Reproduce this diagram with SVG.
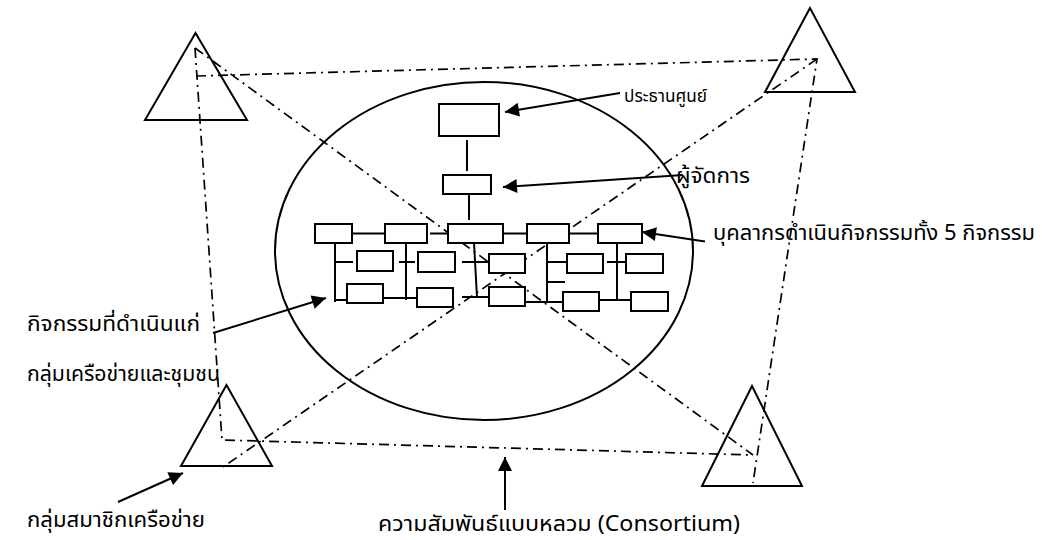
<svg xmlns="http://www.w3.org/2000/svg" width="1047" height="540" viewBox="0 0 1047 540">
<style>
.s{fill:none;stroke:#000;stroke-width:2}
.b{fill:#fff;stroke:#000;stroke-width:2}
.d{fill:none;stroke:#000;stroke-width:1.7;stroke-dasharray:10,5,2,5}
.a{fill:none;stroke:#000;stroke-width:2;marker-end:url(#ah)}
text{font-family:"Noto Sans Thai","Noto Sans","DejaVu Sans",sans-serif;fill:#000}
</style>
<defs>
<marker id="ah" viewBox="0 0 10 10" refX="10" refY="5" markerWidth="8.5" markerHeight="7" markerUnits="strokeWidth" orient="auto"><path d="M0,0L10,5L0,10z" fill="#000"/></marker>
</defs>
<rect width="1047" height="540" fill="#fff"/>
<g id="ellipse"><ellipse class="s" cx="484" cy="251" rx="209" ry="169"/></g>
<g id="tri-tl"><polygon class="s" points="195.5,33 145,120 247,120"/></g>
<g id="tri-tr"><polygon class="s" points="810,8 765,92 855,92"/></g>
<g id="tri-bl"><polygon class="s" points="226.5,385 181,466 272,466"/></g>
<g id="tri-br"><polygon class="s" points="752,386 702,486 802,486"/></g>
<g id="connectors">
<path class="d" d="M195,48L222,440L753,455"/>
<path class="d" d="M196,76L817,59L753,483"/>
<path class="d" d="M195,48L753,455"/>
<path class="d" d="M817,59L223,467"/>
</g>
<g id="org">
<rect class="b" x="439" y="104" width="60" height="32"/>
<rect class="b" x="443" y="175" width="48" height="19"/>
<path class="s" d="M467,140V171M469,194V220"/>
<rect class="b" x="315" y="224" width="37" height="19"/>
<rect class="b" x="385" y="224" width="42" height="19"/>
<rect class="b" x="448" y="224" width="55" height="19"/>
<rect class="b" x="527" y="224" width="42" height="19"/>
<rect class="b" x="598" y="224" width="44" height="19"/>
<path class="s" d="M352,233.5H385M430,233.5H448M503,233.5H527M569,233.5H598"/>
<path class="s" d="M335,243V302M406,243V300M474,243L477,297M547,243V303M617,243V300"/>
<rect class="b" x="357" y="251" width="36" height="20"/>
<rect class="b" x="418" y="252" width="37" height="20"/>
<rect class="b" x="489" y="254" width="36" height="19"/>
<rect class="b" x="567" y="254" width="36" height="19"/>
<rect class="b" x="626" y="254" width="37" height="19"/>
<path class="s" d="M336,262H353M399,262H415M462,262H489M548,262H567M607,262H626M548,282H565"/>
<rect class="b" x="347" y="284" width="36" height="19"/>
<rect class="b" x="417" y="288" width="36" height="19"/>
<rect class="b" x="489" y="287" width="36" height="19"/>
<rect class="b" x="563" y="292" width="36" height="19"/>
<rect class="b" x="631" y="292" width="37" height="19"/>
<path class="s" d="M336,300H347M383,298H417M462,297H489M525,302H563M599,300H631"/>
</g>
<g id="labels">
<path class="a" d="M620,93L505,112"/>
<text x="624" y="102" font-size="17" textLength="83" lengthAdjust="spacingAndGlyphs">ประธานศูนย์</text>
<path class="a" d="M683,175L503,187"/>
<text x="676" y="183" font-size="21" textLength="74" lengthAdjust="spacingAndGlyphs">ผู้จัดการ</text>
<path class="a" d="M705,241.5L642,232"/>
<text x="713" y="240" font-size="21" textLength="322" lengthAdjust="spacingAndGlyphs">บุคลากรดำเนินกิจกรรมทั้ง 5 กิจกรรม</text>
<path class="a" d="M213,333L326,298"/>
<text x="27" y="331" font-size="21" textLength="173" lengthAdjust="spacingAndGlyphs">กิจกรรมที่ดำเนินแก่</text>
<text x="27" y="381" font-size="21" textLength="193" lengthAdjust="spacingAndGlyphs">กลุ่มเครือข่ายและชุมชน</text>
<path class="a" d="M118,502L183,473"/>
<text x="27" y="527" font-size="21" textLength="178" lengthAdjust="spacingAndGlyphs">กลุ่มสมาชิกเครือข่าย</text>
<path class="a" d="M505,510V457"/>
<text x="378" y="531" font-size="21" textLength="362" lengthAdjust="spacingAndGlyphs">ความสัมพันธ์แบบหลวม (Consortium)</text>
</g>
</svg>
